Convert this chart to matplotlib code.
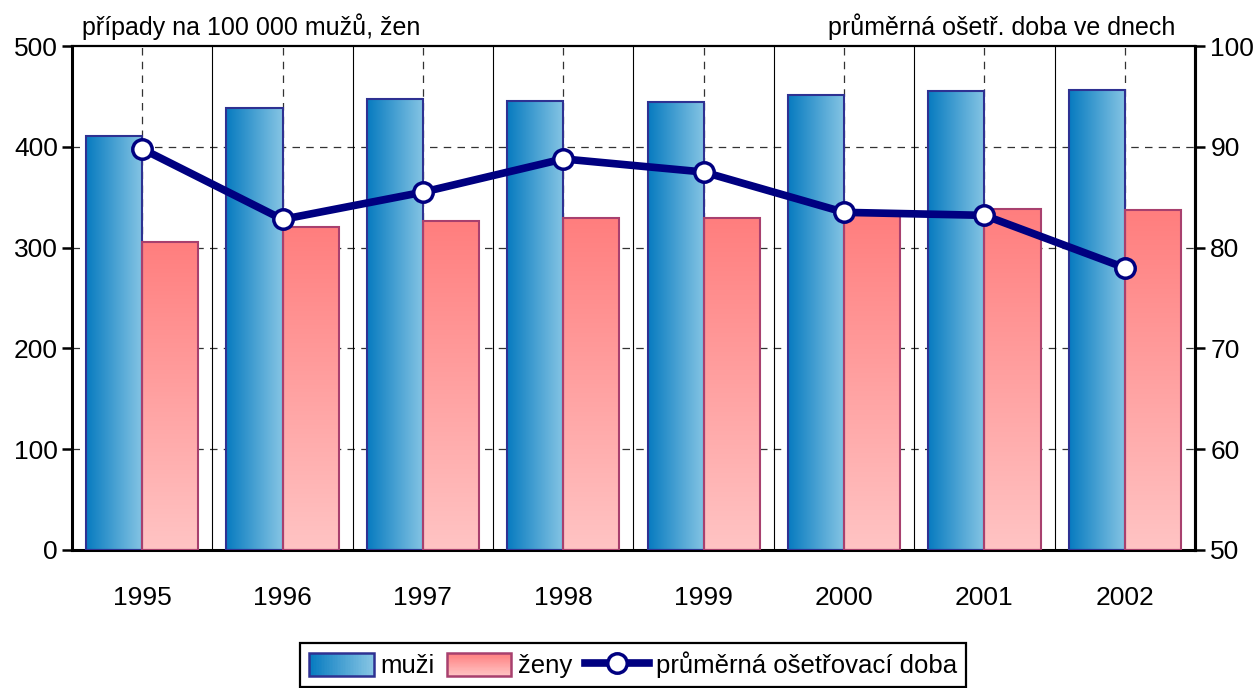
import numpy as np
import matplotlib
matplotlib.use("Agg")
import matplotlib.pyplot as plt
from matplotlib.colors import LinearSegmentedColormap
from matplotlib.patches import Rectangle
from matplotlib.lines import Line2D
from matplotlib.legend_handler import HandlerBase

plt.rcParams['font.family'] = ['Liberation Sans Narrow', 'Liberation Sans', 'DejaVu Sans']

years = ['1995', '1996', '1997', '1998', '1999', '2000', '2001', '2002']
muzi = [411, 439, 447, 445, 444, 451, 455, 456]
zeny = [306, 320, 326, 329, 329, 333, 338, 337]
doba = [89.8, 82.8, 85.5, 88.8, 87.5, 83.5, 83.2, 78.0]

blue_c = ('#077bc0', '#86c5e4')
red_c = ('#ffc4c4', '#ff7e7e')   # bottom -> top
blue_edge = '#2e3192'
red_edge = '#a8406e'
navy = '#000080'
FS = 19


def grad_fill(ax, patches, c1, c2, horizontal):
    cmap = LinearSegmentedColormap.from_list('g', [c1, c2])
    g = np.linspace(0, 1, 128)
    g = g.reshape(1, -1) if horizontal else g.reshape(-1, 1)
    for p in patches:
        x0, y0 = p.get_x(), p.get_y()
        w, h = p.get_width(), p.get_height()
        ax.imshow(g, cmap=cmap, extent=(x0, x0 + w, y0, y0 + h), origin='lower',
                  aspect='auto', zorder=2.5, interpolation='bilinear')


class GradHandler(HandlerBase):
    def __init__(self, c1, c2, ec, horizontal):
        super().__init__()
        self.cmap = LinearSegmentedColormap.from_list('h', [c1, c2])
        self.ec = ec
        self.horizontal = horizontal

    def create_artists(self, legend, orig_handle, xd, yd, width, height, fontsize, trans):
        arts = []
        n = 40
        for i in range(n):
            c = self.cmap(i / (n - 1))
            if self.horizontal:
                r = Rectangle((-xd + width * i / n, -yd), width / n * 1.05, height,
                              facecolor=c, edgecolor='none', transform=trans)
            else:
                r = Rectangle((-xd, -yd + height * i / n), width, height / n * 1.05,
                              facecolor=c, edgecolor='none', transform=trans)
            arts.append(r)
        arts.append(Rectangle((-xd, -yd), width, height, facecolor='none',
                              edgecolor=self.ec, lw=1.8, transform=trans))
        return arts


fig = plt.figure(figsize=(12.6, 6.88), dpi=100)
ax = fig.add_axes([0.0571, 0.2006, 0.8913, 0.7325])

x = np.arange(len(years))
bw = 0.4
b1 = ax.bar(x - bw / 2, muzi, bw, facecolor='none', edgecolor=blue_edge, lw=1.5, zorder=3)
b2 = ax.bar(x + bw / 2, zeny, bw, facecolor='none', edgecolor=red_edge, lw=1.5, zorder=3)
grad_fill(ax, b1, blue_c[0], blue_c[1], True)
grad_fill(ax, b2, red_c[0], red_c[1], False)

ax.set_xlim(-0.5, len(years) - 0.5)
ax.set_ylim(0, 500)
ax.set_yticks(range(0, 501, 100))
ax.set_xticks(x)
ax.set_xticklabels(years)

# grid
for yv in range(100, 500, 100):
    ax.axhline(yv, color='#333333', lw=0.9, ls=(0, (6, 5)), zorder=1)
for xv in x:
    ax.axvline(xv, color='#333333', lw=0.9, ls=(0, (6, 5)), zorder=1)
for xv in x[:-1] + 0.5:
    ax.axvline(xv, color='black', lw=0.8, zorder=1)

for s in ['left', 'bottom', 'right']:
    ax.spines[s].set_linewidth(2.2)
ax.spines['top'].set_linewidth(1.6)
ax.tick_params(axis='y', direction='out', length=7, width=1.8, labelsize=FS, pad=3)
ax.tick_params(axis='x', length=0, labelsize=FS, pad=26)

ax2 = ax.twinx()
ax2.set_ylim(50, 100)
ax2.set_yticks(range(50, 101, 10))
ax2.tick_params(axis='y', direction='out', length=7, width=1.8, labelsize=FS, pad=4)
ax2.spines['right'].set_linewidth(2.2)
ax2.spines['left'].set_visible(False)
ax2.spines['top'].set_visible(False)
ax2.spines['bottom'].set_visible(False)
ax2.plot(x, doba, color=navy, lw=5.5, marker='o', ms=14, mfc='white', mec=navy,
         mew=2.5, zorder=5, clip_on=False)

fig.text(0.065, 0.961, 'případy na 100 000 mužů, žen', fontsize=FS - 1, ha='left', va='center')
fig.text(0.9325, 0.961, 'průměrná ošetř. doba ve dnech', fontsize=FS - 1, ha='right', va='center')

h_m = Rectangle((0, 0), 1, 1)
h_z = Rectangle((0, 0), 1, 1)
h_d = Line2D([], [], color=navy, lw=5.5, marker='o', ms=14, mfc='white', mec=navy, mew=2.5)
leg = fig.legend([h_m, h_z, h_d], ['muži', 'ženy', 'průměrná ošetřovací doba'],
                 loc='upper center', bbox_to_anchor=(0.5024, 0.066), ncol=3,
                 fontsize=FS - 0.5, frameon=True, fancybox=False, framealpha=1,
                 edgecolor='black', handlelength=2.5, handleheight=1.0,
                 handletextpad=0.25, columnspacing=0.5, borderpad=0.35,
                 numpoints=1, borderaxespad=0,
                 handler_map={h_m: GradHandler(blue_c[0], blue_c[1], blue_edge, True),
                              h_z: GradHandler(red_c[0], red_c[1], red_edge, False)})
leg.get_frame().set_linewidth(1.6)

fig.savefig('out.png', dpi=100)
